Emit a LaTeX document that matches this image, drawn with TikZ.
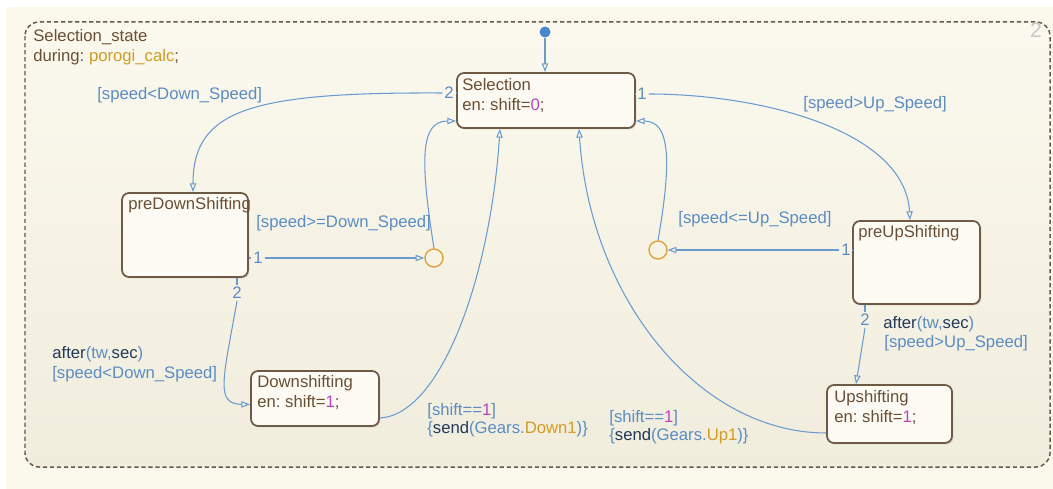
\documentclass[tikz,border=0pt]{standalone}
\usepackage{fontspec}
\setmainfont{Liberation Sans}
\usetikzlibrary{arrows.meta,shadows}
\definecolor{bgcream}{HTML}{FBF9EC}
\definecolor{topcream}{HTML}{FBF9EE}
\definecolor{botcream}{HTML}{F1EDDD}
\definecolor{dashbrown}{HTML}{66584A}
\definecolor{stborder}{HTML}{6E5A45}
\definecolor{stfill}{HTML}{FDFBF4}
\definecolor{stbrown}{HTML}{6B4F35}
\definecolor{lineblue}{HTML}{6A9BD0}
\definecolor{lblue}{HTML}{5B8CC4}
\definecolor{navy}{HTML}{22395A}
\definecolor{orng}{HTML}{D39B22}
\definecolor{mag}{HTML}{C040C0}
\definecolor{juncor}{HTML}{E0A23A}
\definecolor{dotblue}{HTML}{4A86CF}
\frenchspacing
\begin{document}
\begin{tikzpicture}[x=0.02cm,y=-0.02cm,
  state/.style={draw=stborder, line width=1pt, fill=stfill, rounded corners=4pt,
    drop shadow={opacity=0.25, shadow xshift=0.8pt, shadow yshift=-0.8pt}},
  stxt/.style={font=\fontsize{9.5}{11}\selectfont\frenchspacing, text=stbrown, inner sep=0pt, anchor=base west},
  lbl/.style={font=\fontsize{9.5}{11}\selectfont\frenchspacing, text=lblue, inner sep=0pt, anchor=base west},
  num/.style={font=\fontsize{9.5}{11}\selectfont, text=lblue, inner sep=1pt},
  tr/.style={draw=lineblue, line width=0.6pt, -{Triangle[open,length=5pt,width=3.6pt]}},
  trl/.style={draw=lineblue, line width=0.6pt},
  junc/.style={circle, draw=juncor, line width=0.8pt, minimum size=0.36cm, inner sep=0pt},
  outer/.style={draw=dashbrown, line width=0.85pt, dash pattern=on 2.4pt off 1.6pt, rounded corners=8pt}
]
\useasboundingbox (0,0) rectangle (1053,489);
\fill[white] (0,0) rectangle (1053,489);
\fill[bgcream] (6,7) rectangle (1053,489);
\shade[top color=topcream, bottom color=botcream, rounded corners=8pt] (25,22) rectangle (1050,467);
\draw[outer] (25,22) rectangle (1050,467);

% chart texts
\node[stxt] (T1) at (33,42) {Selection\_state};
\node[stxt] (T2) at (33,62) {during: \textcolor{orng}{porogi\_calc};};
\node[font=\fontsize{12}{12}\selectfont, text=black!22, anchor=base, inner sep=0pt] (pg) at (1036,38) {2};

% states
\node[state, minimum width=3.56cm, minimum height=1.10cm] (S) at (546,100.5) {};
\node[state, minimum width=2.52cm, minimum height=1.68cm] (PD) at (185,235) {};
\node[state, minimum width=2.54cm, minimum height=1.66cm] (PU) at (916.5,262.5) {};
\node[state, minimum width=2.56cm, minimum height=1.10cm] (D) at (315,398.5) {};
\node[state, minimum width=2.50cm, minimum height=1.16cm] (U) at (889.5,414) {};

\node[stxt] (St1) at (462,91) {Selection};
\node[stxt] (St2) at (462,111) {en: shift=\textcolor{mag}{0};};
\node[stxt] (PDt) at (128,210) {preDownShifting};
\node[stxt] (PUt) at (858,237) {preUpShifting};
\node[stxt] (Dt1) at (257,387) {Downshifting};
\node[stxt] (Dt2) at (257,407) {en: shift=\textcolor{mag}{1};};
\node[stxt] (Ut1) at (834,402) {Upshifting};
\node[stxt] (Ut2) at (834,422) {en: shift=\textcolor{mag}{1};};

% initial transition
\node[circle, fill=dotblue, minimum size=0.22cm, inner sep=0pt] (init) at (545,32) {};
\draw[tr] (init.south) -- (init.south |- S.north);

% junctions
\node[junc] (J1) at (434,258) {};
\node[junc] (J2) at (658,250) {};

% Selection -> preDownShifting
\node[num] (n1) at (449,93) {2};
\draw[trl] (S.west |- n1) -- (n1.east);
\draw[tr] (n1.west) .. controls (250,92) and (193,110) .. ([xshift=0.16cm]PD.north);

% Selection -> preUpShifting
\node[num] (n2) at (642,94) {1};
\draw[trl] (S.east |- n2) -- (n2.west);
\draw[tr] (n2.east) .. controls (760,94) and (905,130) .. ([xshift=-0.13cm]PU.north);

% preDownShifting -> J1
\node[num] (n3) at (258,258) {1};
\draw[trl] (PD.east |- n3) -- (n3.west);
\draw[tr] (n3.east) -- (J1.west);

% J1 -> Selection
\draw[tr] (J1.north) .. controls (420,160) and (420,121) .. ([yshift=-0.41cm]S.west);

% preUpShifting -> J2
\node[num] (n6) at (846,250) {1};
\draw[trl] (PU.west |- n6) -- (n6.east);
\draw[tr] (n6.west) -- (J2.east);

% J2 -> Selection
\draw[tr] (J2.north) .. controls (672,160) and (670,121) .. ([yshift=-0.41cm]S.east);

% preDownShifting -> Downshifting
\node[num] (n7) at (237,293) {2};
\draw[trl] (PD.south -| n7) -- (n7.north);
\draw[tr] (n7.south) .. controls (223,380) and (215,404) .. ([yshift=-0.12cm]D.west);

% Downshifting -> Selection
\draw[tr] ([yshift=-0.39cm]D.east) .. controls (440,415) and (490,280) .. ([xshift=-0.92cm]S.south);

% Upshifting -> Selection
\draw[tr] ([yshift=-0.38cm]U.west) .. controls (700,433) and (590,300) .. ([xshift=0.66cm]S.south);

% preUpShifting -> Upshifting
\node[num] (n10) at (865,320) {2};
\draw[trl] (PU.south -| n10) -- (n10.north);
\draw[tr] (n10.south) -- ([xshift=-0.67cm]U.north);

% transition labels
\node[lbl] (L1) at (97,100) {[speed<Down\_Speed]};
\node[lbl] (L2) at (803,109) {[speed>Up\_Speed]};
\node[lbl] (L3) at (256,228) {[speed>=Down\_Speed]};
\node[lbl] (L4) at (678,224) {[speed<=Up\_Speed]};
\node[lbl] (L5a) at (52,358) {\textcolor{navy}{after}(tw,\textcolor{navy}{sec})};
\node[lbl] (L5b) at (52,378) {[speed<Down\_Speed]};
\node[lbl] (L8a) at (427,415) {[shift==\textcolor{mag}{1}]};
\node[lbl] (L8b) at (427,433) {\{\textcolor{navy}{send}(Gears.\textcolor{orng}{Down1})\}};
\node[lbl] (L9a) at (609,422) {[shift==\textcolor{mag}{1}]};
\node[lbl] (L9b) at (609,440) {\{\textcolor{navy}{send}(Gears.\textcolor{orng}{Up1})\}};
\node[lbl] (L10a) at (883,328) {\textcolor{navy}{after}(tw,\textcolor{navy}{sec})};
\node[lbl] (L10b) at (884,347) {[speed>Up\_Speed]};
\end{tikzpicture}
\end{document}
